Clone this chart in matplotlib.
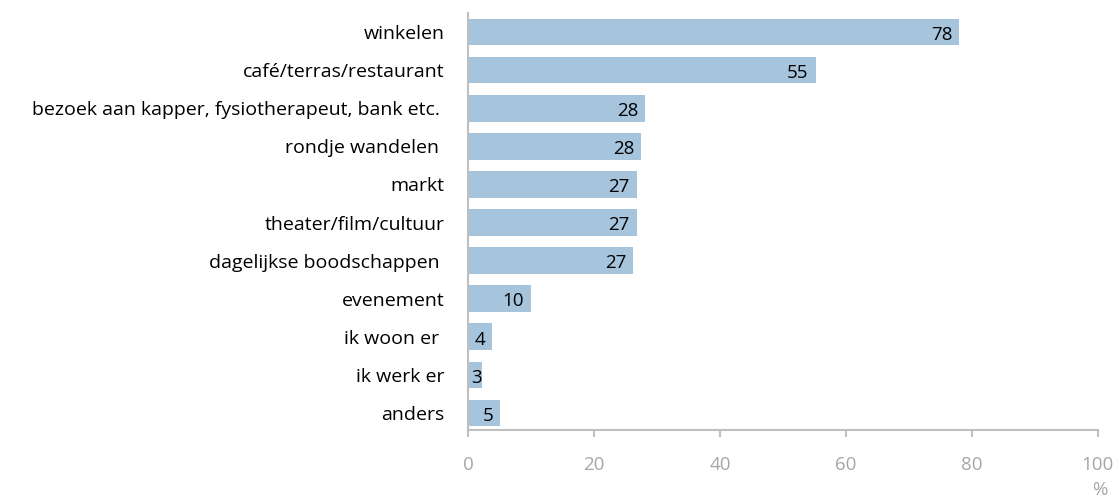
import matplotlib.pyplot as plt

plt.rcParams['font.family'] = ['Open Sans', 'DejaVu Sans']

categories = [
    "winkelen",
    "café/terras/restaurant",
    "bezoek aan kapper, fysiotherapeut, bank etc. ",
    "rondje wandelen ",
    "markt",
    "theater/film/cultuur",
    "dagelijkse boodschappen ",
    "evenement",
    "ik woon er ",
    "ik werk er",
    "anders",
]
values = [78.0, 55.2, 28.1, 27.5, 26.8, 26.8, 26.2, 10.0, 3.8, 2.2, 5.1]
value_labels = ["78", "55", "28", "28", "27", "27", "27", "10", "4", "3", "5"]
x_ticks = [0, 20, 40, 60, 80, 100]

BAR_COLOR = "#a6c4dc"
AXIS_COLOR = "#bfbfbf"
TICK_TEXT = "#a6a6a6"

fig = plt.figure(figsize=(11.2, 4.99), dpi=100)
ax = fig.add_axes([0.418, 0.138, 0.562, 0.836])

pos = list(range(len(categories)))
ax.barh(pos, values, height=0.7, color=BAR_COLOR)
ax.set_ylim(len(categories) - 0.55, -0.5)
ax.set_xlim(0, 100)

# labels sit inside the bar end; very short bars get them at the axis instead
for y, v, label in zip(pos, values, value_labels):
    if v < 3:
        ax.annotate(label, (0, y), xytext=(2, -2), textcoords="offset points",
                    ha="left", va="center", fontsize=13.5, color="black")
    else:
        ax.annotate(label, (v, y), xytext=(-5, -2), textcoords="offset points",
                    ha="right", va="center", fontsize=13.5, color="black")

ax.set_yticks(pos)
ax.set_yticklabels(categories, fontsize=14)
ax.tick_params(axis="y", length=0, pad=17)

ax.set_xticks(x_ticks)
ax.set_xticklabels([str(t) for t in x_ticks], fontsize=13.5, color=TICK_TEXT)
ax.tick_params(axis="x", length=5, width=1.5, color=AXIS_COLOR, pad=13.5)

for side in ("top", "right"):
    ax.spines[side].set_visible(False)
for side in ("left", "bottom"):
    ax.spines[side].set_color(AXIS_COLOR)
    ax.spines[side].set_linewidth(1.5)

fig.text(1100 / 1120, 1 - 490 / 499, "%", ha="center", va="center",
         fontsize=13.5, color=TICK_TEXT)

fig.savefig("out.png", dpi=100)
